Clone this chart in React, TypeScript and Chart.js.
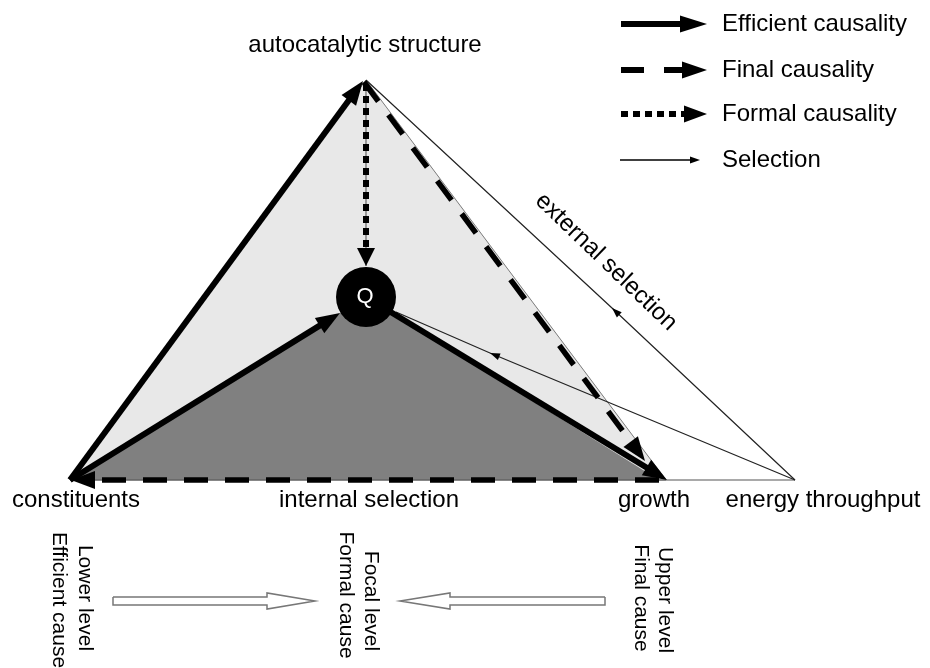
import React, { useEffect, useRef } from "react";
import { Chart, registerables } from "chart.js";
Chart.register(...registerables);

type P = [number, number];

// ---- Diagram nodes (data plane 930 x 668, y grows downward) ----
const APEX: P = [366, 80];
const CONSTITUENTS: P = [70, 480];
const GROWTH: P = [666, 480];
const GROWTH_INNER: P = [659, 480];
const ENERGY: P = [795, 480];
const Q_CENTER: P = [366, 297];
const Q_RADIUS = 30;

const LIGHT_TRIANGLE: P[] = [APEX, CONSTITUENTS, GROWTH, APEX];
const DARK_TRIANGLE: P[] = [CONSTITUENTS, Q_CENTER, GROWTH_INNER, CONSTITUENTS];
const BASE_LINE: P[] = [CONSTITUENTS, ENERGY];
const FORMAL_GUIDE: P[] = [[366, 84], [366, 266]];

// ---- Causal arrows (last point = arrow tip) ----
const EFFICIENT_ARROWS: P[][] = [
  [CONSTITUENTS, [363, 81]],
  [CONSTITUENTS, [340, 313]],
  [Q_CENTER, [667, 480]],
];
const FINAL_ARROWS: P[][] = [
  [[364, 82], [645, 461]],
  [[659, 480], [71, 480]],
];
const FORMAL_ARROWS: P[][] = [[[366, 84], [366, 266]]];
// selection arrows: head drawn at point index 1
const SELECTION_ARROWS: P[][] = [
  [ENERGY, [612, 308], APEX],
  [ENERGY, [490, 353], [396, 312]],
];

// ---- Lower hollow arrows ----
const HOLLOW_RIGHT: P[] = [[113, 597], [267, 597], [267, 593], [315, 601], [267, 609], [267, 605], [113, 605], [113, 597]];
const HOLLOW_LEFT: P[] = [[605, 597], [450, 597], [450, 593], [400, 601], [450, 609], [450, 605], [605, 605], [605, 597]];

// ---- Legend ----
const LEGEND_LABELS = ["Efficient causality", "Final causality", "Formal causality", "Selection"];
const LEGEND_ROWS = [24, 70, 114, 160];
const LEGEND_X: P = [621, 707];

// ---- Texts ----
const NODE_LABELS: { text: string; at: P }[] = [
  { text: "autocatalytic structure", at: [365, 45] },
  { text: "constituents", at: [76, 500] },
  { text: "internal selection", at: [369, 500] },
  { text: "growth", at: [654, 500] },
  { text: "energy throughput", at: [823, 500] },
];
const EXTERNAL_LABEL = { text: "external selection", at: [606, 262] as P, angle: 44 };
const LEVEL_LABELS: { text: string; at: P }[] = [
  { text: "Lower level", at: [85, 598] },
  { text: "Efficient cause", at: [59, 600] },
  { text: "Focal level", at: [371, 601] },
  { text: "Formal cause", at: [346, 595] },
  { text: "Upper level", at: [665, 600] },
  { text: "Final cause", at: [641, 598] },
];

const FONT = '"Liberation Sans", Arial, sans-serif';

export default function App() {
  const ref = useRef<HTMLCanvasElement>(null);

  useEffect(() => {
    document.body.style.margin = "0";
    const toXY = (ps: P[]) => ps.map(([x, y]) => ({ x, y }));
    const pull = (path: P[], back: number): P[] => {
      const n = path.length;
      const [tx, ty] = path[n - 1];
      const [fx, fy] = path[n - 2];
      const L = Math.hypot(tx - fx, ty - fy);
      return [...path.slice(0, n - 1), [tx - ((tx - fx) / L) * back, ty - ((ty - fy) / L) * back]];
    };
    const line = (pts: P[], color: string, width: number, dash: number[] = [], extra: any = {}) => ({
      data: toXY(pts),
      borderColor: color,
      borderWidth: width,
      borderDash: dash,
      pointRadius: 0,
      pointHoverRadius: 0,
      fill: false,
      tension: 0,
      clip: false,
      ...extra,
    });
    const causal = (path: P[], color: string, width: number, dash: number[], head: [number, number]) =>
      line(pull(path, head[0] * 0.7), color, width, dash, {
        arrowHeads: [{ tip: path[path.length - 1], from: path[path.length - 2], len: head[0], width: head[1], color }],
      });

    const layers: any[] = [];
    layers.push(line(LIGHT_TRIANGLE, "#7a7a7a", 1, [], { fill: "shape", backgroundColor: "#e8e8e8" }));
    layers.push(line(DARK_TRIANGLE, "rgba(0,0,0,0)", 1, [], { fill: "shape", backgroundColor: "#808080" }));
    layers.push(line(BASE_LINE, "#555", 1.2));
    layers.push(line(FORMAL_GUIDE, "#666", 1.2));
    SELECTION_ARROWS.forEach((p) =>
      layers.push(
        line(p, "#222", 1.2, [], {
          arrowHeads: [{ tip: p[1], from: p[0], len: 10, width: 7, color: "#000" }],
        })
      )
    );
    FINAL_ARROWS.forEach((p) => layers.push(causal(p, "#000", 5.5, [24, 17], [24, 18])));
    FORMAL_ARROWS.forEach((p) => layers.push(causal(p, "#000", 6, [7, 5], [18, 18])));
    EFFICIENT_ARROWS.forEach((p) => layers.push(causal(p, "#000", 6, [], [24, 18])));
    layers.push({
      data: toXY([Q_CENTER]),
      showLine: false,
      pointRadius: Q_RADIUS,
      pointHoverRadius: Q_RADIUS,
      pointBackgroundColor: "#000",
      pointBorderColor: "#000",
      pointBorderWidth: 0,
      clip: false,
    });
    // legend samples
    const [lx0, lx1] = LEGEND_X;
    layers.push(causal([[lx0, LEGEND_ROWS[0]], [lx1, LEGEND_ROWS[0]]], "#000", 6, [], [27, 17]));
    layers.push(causal([[lx0, LEGEND_ROWS[1]], [lx1, LEGEND_ROWS[1]]], "#000", 6, [23, 20], [25, 17]));
    layers.push(causal([[lx0, LEGEND_ROWS[2]], [lx1, LEGEND_ROWS[2]]], "#000", 6, [7, 5], [23, 17]));
    layers.push(causal([[lx0 - 1, LEGEND_ROWS[3]], [lx1 - 7, LEGEND_ROWS[3]]], "#000", 1.3, [], [10, 7]));
    // hollow arrows
    layers.push(line(HOLLOW_RIGHT, "#777", 1.5, [], { fill: "shape", backgroundColor: "#fff" }));
    layers.push(line(HOLLOW_LEFT, "#777", 1.5, [], { fill: "shape", backgroundColor: "#fff" }));

    const N = layers.length;
    layers.forEach((d, i) => (d.order = N - i));

    const overlay = {
      id: "overlay",
      afterDatasetsDraw(chart: any) {
        const ctx = chart.ctx as CanvasRenderingContext2D;
        const xs = chart.scales.x;
        const ys = chart.scales.y;
        const px = (p: P) => ({ x: xs.getPixelForValue(p[0]), y: ys.getPixelForValue(p[1]) });
        ctx.save();
        chart.data.datasets.forEach((ds: any) => {
          (ds.arrowHeads || []).forEach((h: any) => {
            const t = px(h.tip);
            const f = px(h.from);
            const ang = Math.atan2(t.y - f.y, t.x - f.x);
            ctx.save();
            ctx.translate(t.x, t.y);
            ctx.rotate(ang);
            ctx.beginPath();
            ctx.moveTo(0, 0);
            ctx.lineTo(-h.len, -h.width / 2);
            ctx.lineTo(-h.len, h.width / 2);
            ctx.closePath();
            ctx.fillStyle = h.color;
            ctx.fill();
            ctx.restore();
          });
        });
        ctx.fillStyle = "#000";
        ctx.textBaseline = "middle";
        ctx.textAlign = "center";
        ctx.font = `24px ${FONT}`;
        NODE_LABELS.forEach((l) => {
          const p = px(l.at);
          ctx.fillText(l.text, p.x, p.y);
        });
        {
          const p = px(EXTERNAL_LABEL.at);
          ctx.save();
          ctx.translate(p.x, p.y);
          ctx.rotate((EXTERNAL_LABEL.angle * Math.PI) / 180);
          ctx.fillText(EXTERNAL_LABEL.text, 0, 0);
          ctx.restore();
        }
        ctx.textAlign = "left";
        LEGEND_LABELS.forEach((t, i) => {
          const p = px([722, LEGEND_ROWS[i]]);
          ctx.fillText(t, p.x, p.y);
        });
        ctx.textAlign = "center";
        ctx.font = `21px ${FONT}`;
        LEVEL_LABELS.forEach((l) => {
          const p = px(l.at);
          ctx.save();
          ctx.translate(p.x, p.y);
          ctx.rotate(Math.PI / 2);
          ctx.fillText(l.text, 0, 0);
          ctx.restore();
        });
        const q = px(Q_CENTER);
        ctx.fillStyle = "#fff";
        ctx.font = `22px ${FONT}`;
        ctx.fillText("Q", q.x - 1, q.y);
        ctx.restore();
      },
    };

    const chart = new Chart(ref.current!, {
      type: "line",
      data: { datasets: layers },
      options: {
        animation: false,
        responsive: false,
        devicePixelRatio: 1,
        events: [],
        layout: { padding: 0, autoPadding: false },
        plugins: { legend: { display: false }, tooltip: { enabled: false } },
        scales: {
          x: { type: "linear", min: 0, max: 930, display: false },
          y: { type: "linear", min: 0, max: 668, reverse: true, display: false },
        },
      },
      plugins: [overlay],
    } as any);
    return () => chart.destroy();
  }, []);

  return (
    <div style={{ position: "absolute", left: 0, top: 0, width: 930, height: 668, background: "#fff" }}>
      <canvas ref={ref} width={930} height={668} style={{ display: "block" }} />
    </div>
  );
}
